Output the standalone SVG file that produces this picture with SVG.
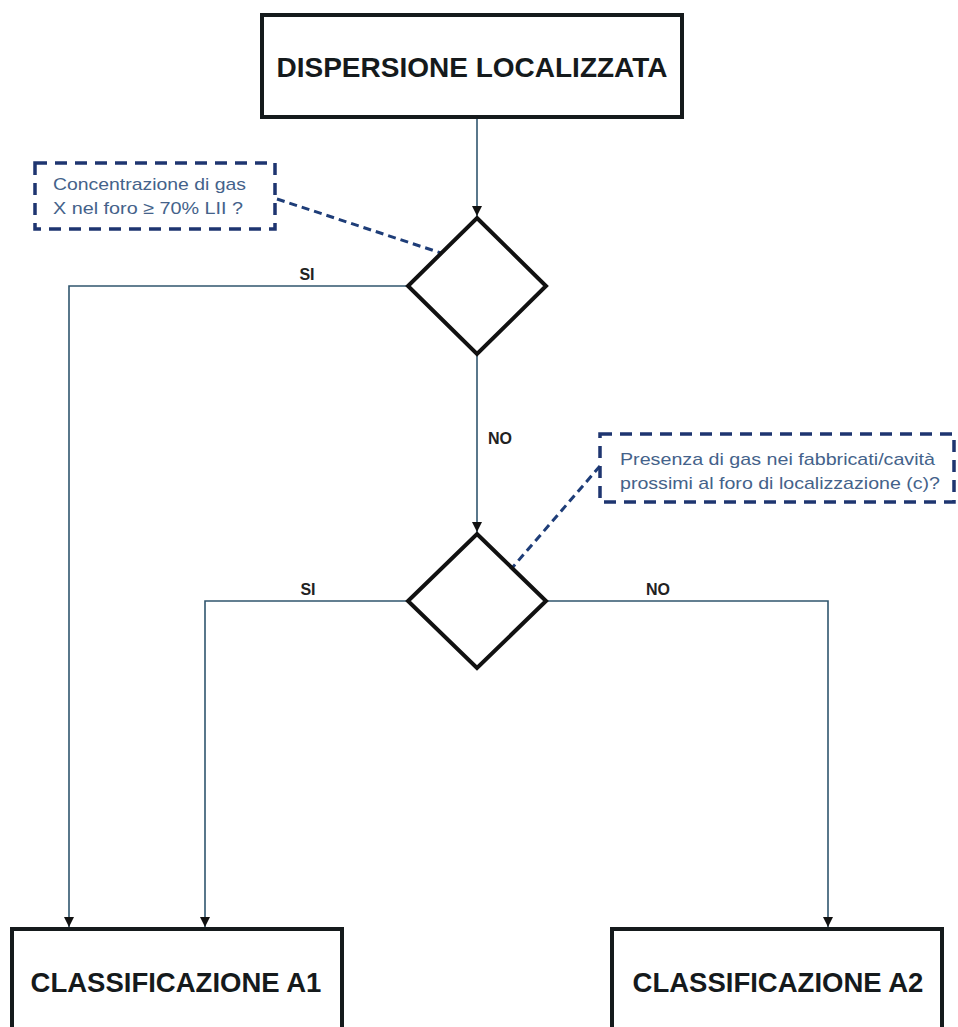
<svg xmlns="http://www.w3.org/2000/svg" width="958" height="1027" viewBox="0 0 958 1027">
  <style>
    .box { fill: #ffffff; stroke: #151a1c; stroke-width: 4; }
    .dia { fill: #ffffff; stroke: #111111; stroke-width: 4; stroke-linejoin: miter; }
    .title { font-family: "Liberation Sans", Arial, sans-serif; font-weight: bold; fill: #151a1c; text-anchor: middle; }
    .note { fill: #ffffff; stroke: #1e3570; stroke-width: 3.5; stroke-dasharray: 12 8; }
    .notetxt { font-family: "Liberation Sans", Arial, sans-serif; font-size: 17px; fill: #44628a; }
    .conn { fill: none; stroke: #30566e; stroke-width: 1.6; }
    .dash { fill: none; stroke: #1e3d78; stroke-width: 3; stroke-dasharray: 8 5; }
    .lbl { font-family: "Liberation Sans", Arial, sans-serif; font-weight: bold; font-size: 16px; fill: #222222; text-anchor: middle; }
  </style>
  <defs>
    <marker id="arr" markerUnits="userSpaceOnUse" markerWidth="10" markerHeight="10" refX="10" refY="5" orient="auto">
      <path d="M0,0 L10,5 L0,10 z" fill="#111111"/>
    </marker>
  </defs>
  <rect width="958" height="1027" fill="#ffffff"/>

  <g id="connectors">
    <line class="conn" x1="477" y1="117" x2="477" y2="216" marker-end="url(#arr)"/>
    <polyline class="conn" points="408,286 69,286 69,927" marker-end="url(#arr)"/>
    <line class="conn" x1="477" y1="355" x2="477" y2="532" marker-end="url(#arr)"/>
    <polyline class="conn" points="409,601 205,601 205,927" marker-end="url(#arr)"/>
    <polyline class="conn" points="547,601 828,601 828,927" marker-end="url(#arr)"/>
    <line class="dash" x1="277" y1="199" x2="441" y2="253"/>
    <line class="dash" x1="600" y1="466" x2="512" y2="568"/>
    <text class="lbl" x="307" y="280">SI</text>
    <text class="lbl" x="500" y="444">NO</text>
    <text class="lbl" x="308" y="595">SI</text>
    <text class="lbl" x="658" y="595">NO</text>
  </g>

  <g id="start">
    <rect class="box" x="262" y="15" width="420" height="102"/>
    <text class="title" x="472" y="77" font-size="28">DISPERSIONE LOCALIZZATA</text>
  </g>

  <g id="note1">
    <rect class="note" x="35" y="163" width="240" height="66"/>
    <text class="notetxt" x="53" y="190" textLength="193" lengthAdjust="spacingAndGlyphs">Concentrazione di gas</text>
    <text class="notetxt" x="53" y="214" textLength="190" lengthAdjust="spacingAndGlyphs">X nel foro ≥ 70% LII ?</text>
  </g>

  <g id="decision1">
    <polygon class="dia" points="477,218 546,286 477,354 408,286"/>
  </g>

  <g id="note2">
    <rect class="note" x="600" y="434" width="354" height="68"/>
    <text class="notetxt" x="620" y="465" textLength="315" lengthAdjust="spacingAndGlyphs">Presenza di gas nei fabbricati/cavità</text>
    <text class="notetxt" x="620" y="489" textLength="320" lengthAdjust="spacingAndGlyphs">prossimi al foro di localizzazione (c)?</text>
  </g>

  <g id="decision2">
    <polygon class="dia" points="477,534 546,601 477,668 408,601"/>
  </g>

  <g id="classA1">
    <rect class="box" x="12" y="929" width="330" height="110"/>
    <text class="title" x="176" y="992" font-size="27.5">CLASSIFICAZIONE A1</text>
  </g>

  <g id="classA2">
    <rect class="box" x="612" y="929" width="330" height="110"/>
    <text class="title" x="778" y="992" font-size="27.5">CLASSIFICAZIONE A2</text>
  </g>
</svg>
